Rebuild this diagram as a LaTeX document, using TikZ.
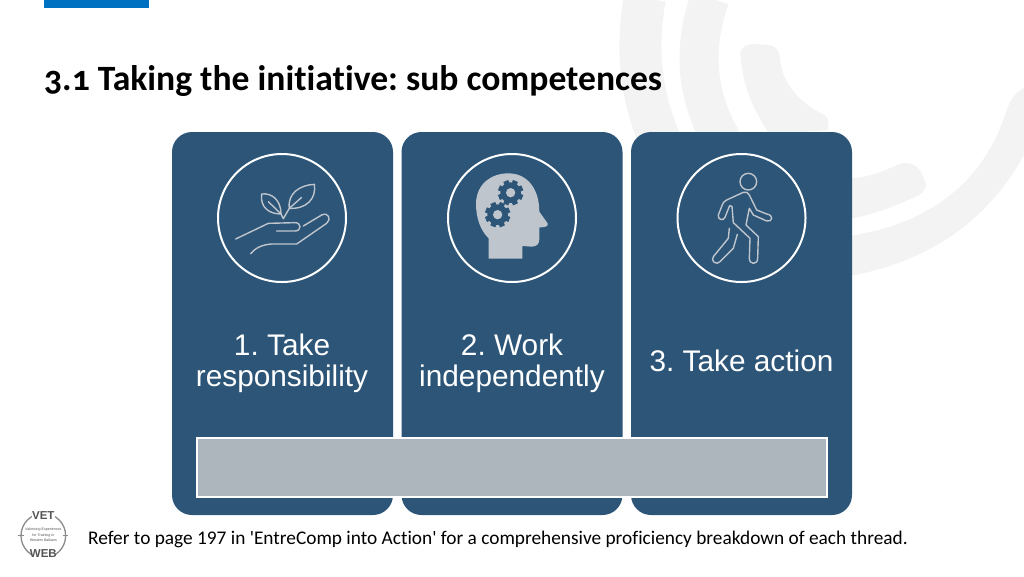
\documentclass[tikz,border=0pt]{standalone}
\usepackage{fontspec}
\setmainfont{Carlito}
\newfontfamily\titlef[Numbers=OldStyle,Ligatures=CommonOff]{Carlito}
\newfontfamily\footf[Ligatures=CommonOff]{Carlito}
\newfontfamily\arialf{Liberation Sans}
\definecolor{cardblue}{HTML}{2C5578}
\definecolor{barblue}{HTML}{0070C0}
\definecolor{wm}{HTML}{F3F3F3}
\definecolor{barg}{HTML}{ADB5BD}
\definecolor{icong}{HTML}{BFC5CC}
\definecolor{logog}{HTML}{8A8A8A}
\tikzset{
  card/.style={draw=none,fill=cardblue,rounded corners=20pt,minimum width=221pt,minimum height=383pt,inner sep=0pt},
  ring/.style={draw=white,line width=2pt,circle,minimum size=128pt,inner sep=0pt},
  cardtext/.style={text=white,font=\arialf\fontsize{29.8}{31}\selectfont,align=center,inner sep=0pt},
  iconline/.style={draw=icong,line width=1.4pt,line cap=round,line join=round},
}
\begin{document}
\frenchspacing
\begin{tikzpicture}[x=1pt,y=-1pt]
\useasboundingbox (0,0) rectangle (1024,576);
\fill[white] (0,0) rectangle (1024,576);
% watermark
\draw[wm,line width=42pt] (645,-2) .. controls (636,45) and (640,95) .. (660,140);
\draw[wm,line width=39pt] (710,-2) .. controls (693,45) and (695,95) .. (722,140);
\fill[wm] (741,58) .. controls (738,49) and (745,44) .. (755,44) -- (768,45) .. controls (777,46) and (780,52) .. (780,60) .. controls (783,85) and (800,103) .. (824,115) .. controls (828,117) and (829,120) .. (828,130) -- (770,135) .. controls (750,105) and (742,80) .. (741,58) -- cycle;
\fill[wm] (850,178) .. controls (870,178) and (885,170) .. (900,164) .. controls (915,160) and (922,170) .. (926,185) .. controls (925,192) and (920,195) .. (915,197) .. controls (895,206) and (875,214) .. (850,219) -- cycle;
\fill[wm] (850,236) .. controls (920,225) and (980,190) .. (1005,115) .. controls (1010,100) and (1015,92) .. (1024,88) -- (1024,155) .. controls (985,225) and (925,262) .. (850,276) -- cycle;
% top bar
\fill[barblue] (44,0) rectangle (149,8);
\node[anchor=base west,inner sep=0pt,font=\titlef\fontsize{35.6}{38}\selectfont\bfseries] (title) at (44,90) {3.1 Taking the initiative: sub competences};
% cards
\node[card] (c1) at (282.5,323.5) {};
\node[card] (c2) at (512,323.5) {};
\node[card] (c3) at (741.5,323.5) {};
\node[ring] (r1) at (282,218) {};
\node[ring] (r2) at (512,218) {};
\node[ring] (r3) at (741.5,218) {};
\node[cardtext] (t1) at (282,363.5) {1. Take\\responsibility};
\node[cardtext] (t2) at (512,363.5) {2. Work\\independently};
\node[cardtext] (t3) at (741.5,361) {3. Take action};
\node[draw=white,line width=2pt,fill=barg,minimum width=630pt,minimum height=59pt,inner sep=0pt] (bar) at (512,467.5) {};
% hand icon
\begin{scope}[shift={(200,140)},x=0.3333pt,y=-0.3333pt]
\draw[iconline] (185,162) .. controls (215,158) and (243,180) .. (243,222) .. controls (205,222) and (180,200) .. (185,162) -- cycle;
\draw[iconline] (205,185) -- (243,222) -- (250,236) -- (268,205);
\draw[iconline] (343,133) .. controls (300,135) and (262,160) .. (268,205) .. controls (320,208) and (350,175) .. (343,133) -- cycle;
\draw[iconline] (305,172) -- (268,205);
\draw[iconline] (107,297) -- (205,250) -- (285,248) .. controls (305,248) and (305,273) .. (285,273) -- (230,273);
\draw[iconline] (310,258) -- (365,225) .. controls (385,215) and (395,238) .. (380,250) -- (290,312) -- (215,312) .. controls (185,314) and (165,325) .. (152,341);
% head icon
\fill[icong] (866,356) -- (866,295) .. controls (842,272) and (828,235) .. (828,190) .. controls (830,130) and (875,100) .. (925,100) .. controls (985,100) and (1018,150) .. (1018,215) -- (1043,250) .. controls (1045,258) and (1040,262) .. (1018,262) -- (1018,298) .. controls (1018,312) and (1010,320) .. (995,320) -- (967,318) -- (967,356) -- cycle;
\foreach \cx/\cy in {932/158,893/224}{
  \begin{scope}[shift={(\cx,\cy)}]
  \fill[cardblue] (0,0) circle[radius=31];
  \foreach \a in {0,45,...,135}{
    \fill[cardblue,rotate=\a+22.5] (-8,-38) rectangle (8,38);
  }
  \fill[icong] (0,0) circle[radius=14];
  \end{scope}
}
\end{scope}
% walker icon
\begin{scope}[shift={(660,140)},x=0.3333pt,y=-0.3333pt]
\draw[iconline] (265,125) circle[radius=25];
\draw[iconline] (250,157) -- (200,180) .. controls (192,184) and (190,188) .. (188,192) -- (175,225) .. controls (172,238) and (190,245) .. (195,232) -- (209,197) -- (216,199) -- (220,248) -- (270,295) -- (268,355) .. controls (268,375) and (293,375) .. (293,355) -- (295,290) -- (258,255) -- (268,205) -- (280,225) -- (320,243) .. controls (338,247) and (342,225) .. (320,222) -- (290,210) -- (268,165) .. controls (263,157) and (257,154) .. (250,157) -- cycle;
\draw[iconline] (208,265) -- (205,295) -- (160,350) .. controls (150,362) and (170,378) .. (180,365) -- (220,325) -- (232,283);
\end{scope}
% logo
\begin{scope}[shift={(0,490)},x=0.3333pt,y=-0.3333pt]
\draw[logog,line width=1.3pt] (130,137) circle[radius=67];
\draw[logog,line width=1pt] (55,137) -- (72,137);
\draw[logog,line width=1pt] (188,137) -- (205,137);
\fill[white] (95,55) rectangle (165,92);
\fill[white] (95,178) rectangle (165,215);
\node[inner sep=0pt,text=logog!60!black,font=\arialf\bfseries\fontsize{11.5}{12}\selectfont] (vet) at (130,76) {VET};
\node[inner sep=0pt,text=logog!60!black,font=\arialf\bfseries\fontsize{11.5}{12}\selectfont] (web) at (130,192) {WEB};
\node[inner sep=0pt,text=logog!60!black,align=center,font=\arialf\fontsize{3.6}{5.4}\selectfont] (lt) at (130,135) {Valorising Experiences\\for Training in\\Western Balkans};
\end{scope}
\node[anchor=base west,inner sep=0pt,font=\footf\fontsize{19.32}{22}\selectfont] (foot) at (88,544) {Refer to page 197 in 'EntreComp into Action' for a comprehensive proficiency breakdown of each thread.};
\end{tikzpicture}
\end{document}
